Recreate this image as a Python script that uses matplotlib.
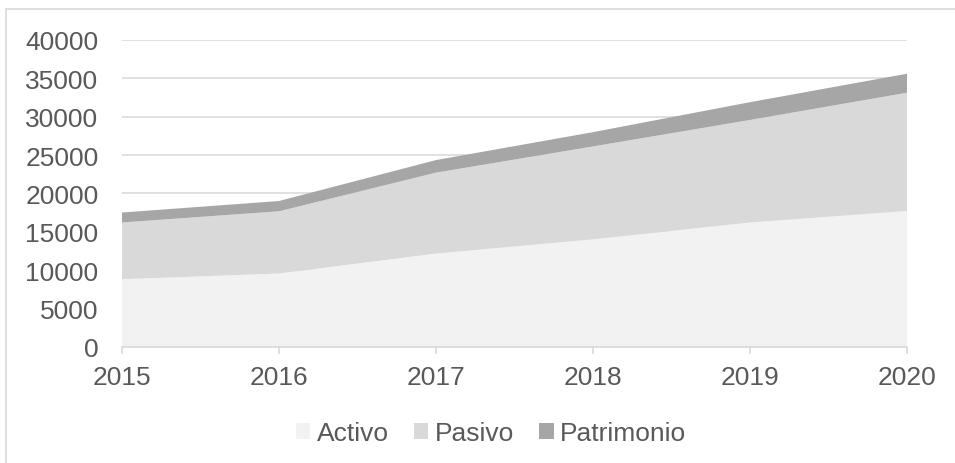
import matplotlib
matplotlib.use("Agg")
import matplotlib.pyplot as plt
from matplotlib.patches import Rectangle, Patch

years = [2015, 2016, 2017, 2018, 2019, 2020]
activo = [8800, 9550, 12150, 14000, 16200, 17700]
pasivo = [7400, 8110, 10550, 12120, 13370, 15425]
patrimonio = [1300, 1340, 1640, 1860, 2320, 2475]
series_names = ["Activo", "Pasivo", "Patrimonio"]
colors = ["#f2f2f2", "#d9d9d9", "#a6a6a6"]
yticks = list(range(0, 40001, 5000))

plt.rcParams['font.family'] = ['Liberation Sans', 'DejaVu Sans']
W, H = 955, 464
fig = plt.figure(figsize=(W / 100, H / 100), dpi=100)
ax = fig.add_axes([122 / W, 1 - 347.7 / H, (907 - 122) / W, (347.7 - 41) / H])

ax.stackplot(years, activo, pasivo, patrimonio, colors=colors, linewidth=0, zorder=2)
ax.set_xlim(years[0], years[-1])
ax.set_ylim(0, 40000)
ax.set_yticks(yticks)
ax.set_yticklabels([str(v) for v in yticks])
ax.set_xticks(years)
ax.set_xticklabels([str(y) for y in years])
ax.grid(axis='y', color='#d9d9d9', linewidth=1.1, zorder=1)
ax.set_axisbelow(True)
for s in ['top', 'right', 'left']:
    ax.spines[s].set_visible(False)
ax.spines['bottom'].set_color('#d9d9d9')
ax.spines['bottom'].set_linewidth(1.2)
ax.spines['bottom'].set_zorder(3)
ax.tick_params(axis='y', length=0, pad=17, labelsize=19, labelcolor='#595959')
ax.tick_params(axis='x', length=5, width=1.2, color='#d9d9d9', pad=8.5, labelsize=19, labelcolor='#595959')

handles = [Patch(facecolor=c, edgecolor='none') for c in colors]
fig.legend(handles, series_names, loc='center', bbox_to_anchor=(491 / W, 1 - 434 / H), ncol=3,
           frameon=False, fontsize=19, labelcolor='#595959', handlelength=0.55, handleheight=0.55,
           handletextpad=0.25, columnspacing=0.95)

fig.patches.append(Rectangle((6 / W, -0.1), 1.2, (H - 10) / H + 0.1, transform=fig.transFigure,
                             fill=False, edgecolor='#d9d9d9', linewidth=1.2))
fig.savefig('out.png', dpi=100)
